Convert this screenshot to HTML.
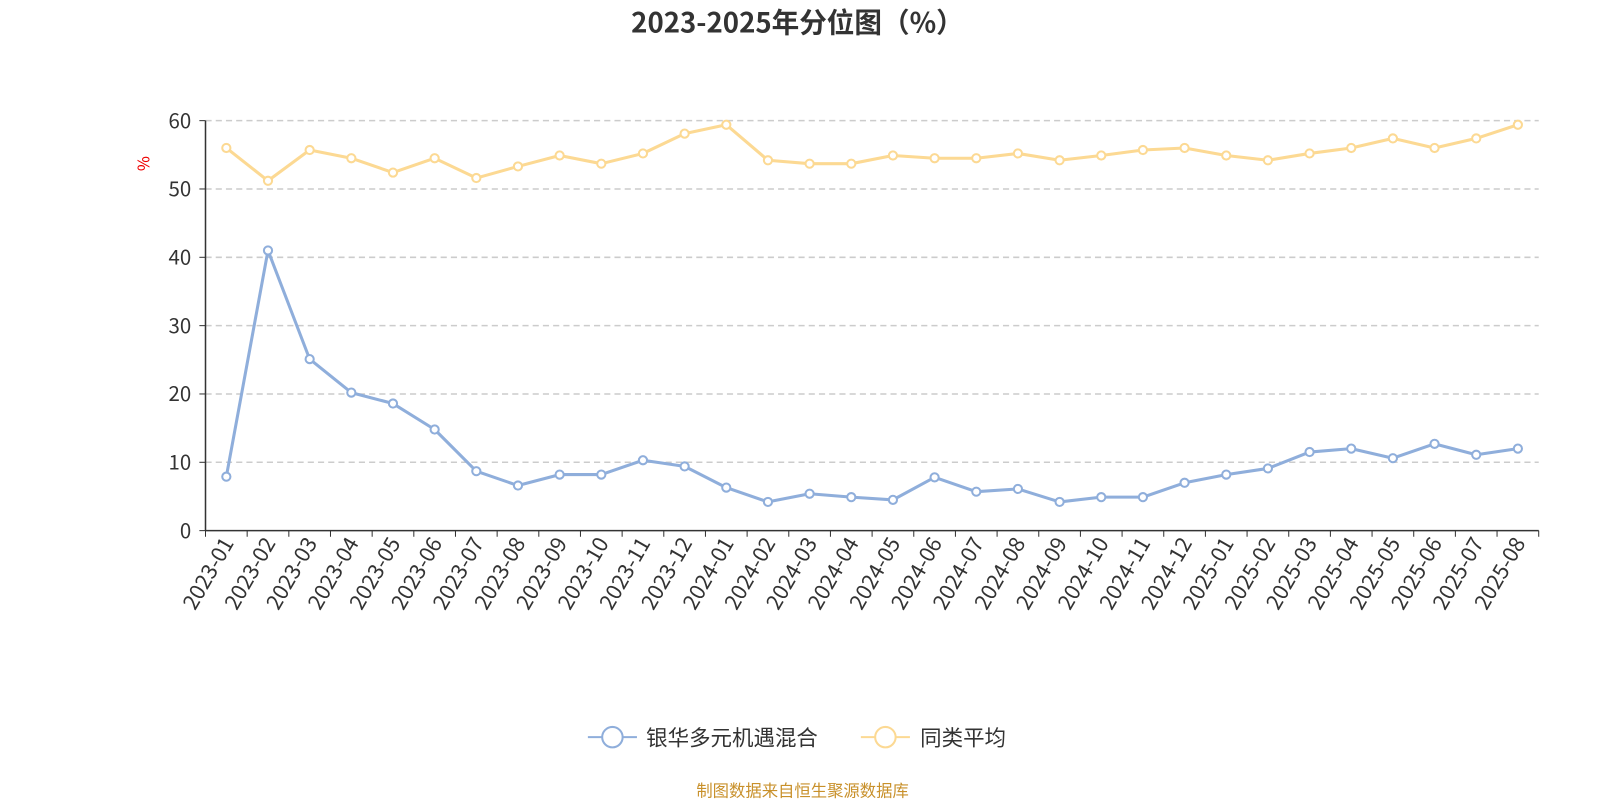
<!DOCTYPE html>
<html><head><meta charset="utf-8"><style>
body{margin:0;background:#fff;}
svg text{font-family:"Noto Sans CJK SC","Liberation Sans",sans-serif;}
</style></head><body>
<svg id="chart" width="1600" height="800" xmlns="http://www.w3.org/2000/svg">
<g transform="scale(1.0224)">
<text x="780" y="32" text-anchor="middle" font-size="27" font-weight="bold" fill="#333">2023-2025年分位图（%）</text>
<text x="146" y="160" font-size="16" fill="#e00" transform="rotate(-90 146 160)" text-anchor="middle">%</text>
<g id="grid"></g><g id="axes"></g><g id="series"></g>
<g>
<g>
<line x1="575" y1="721" x2="623" y2="721" stroke="#8faedb" stroke-width="2"/>
<circle cx="599" cy="721" r="10" fill="#fff" stroke="#8faedb" stroke-width="2"/>
<text x="632" y="729" font-size="21" fill="#333">银华多元机遇混合</text></g>
<g>
<line x1="842" y1="721" x2="890" y2="721" stroke="#fcd993" stroke-width="2"/>
<circle cx="866" cy="721" r="10" fill="#fff" stroke="#fcd993" stroke-width="2"/>
<text x="900" y="729" font-size="21" fill="#333">同类平均</text></g>
</g>
<text x="785" y="779" text-anchor="middle" font-size="16" fill="#c8902a">制图数据来自恒生聚源数据库</text>
</g>
</svg>
<script>
const categories=["2023-01","2023-02","2023-03","2023-04","2023-05","2023-06","2023-07","2023-08","2023-09","2023-10","2023-11","2023-12","2024-01","2024-02","2024-03","2024-04","2024-05","2024-06","2024-07","2024-08","2024-09","2024-10","2024-11","2024-12","2025-01","2025-02","2025-03","2025-04","2025-05","2025-06","2025-07","2025-08"];
const fundValues=[7.9,41,25.1,20.2,18.6,14.8,8.7,6.6,8.2,8.2,10.3,9.4,6.3,4.2,5.4,4.9,4.5,7.8,5.7,6.1,4.2,4.9,4.9,7.0,8.2,9.1,11.5,12.0,10.6,12.7,11.1,12.0];
const avgValues=[56.0,51.2,55.7,54.5,52.4,54.5,51.6,53.3,54.9,53.7,55.2,58.1,59.4,54.2,53.7,53.7,54.9,54.5,54.5,55.2,54.2,54.9,55.7,56.0,54.9,54.2,55.2,56.0,57.4,56.0,57.4,59.4];
const yTicks=[0,10,20,30,40,50,60];
const NS="http://www.w3.org/2000/svg";
const L=201,R=1505,T=118,B=519;
const bw=(R-L)/categories.length;
const x=i=>L+bw*(i+0.5);
const y=v=>B-(v/60)*(B-T);
function mk(tag,attrs,parent){const e=document.createElementNS(NS,tag);for(const k in attrs)e.setAttribute(k,attrs[k]);parent.appendChild(e);return e;}
const grid=document.getElementById('grid'),axes=document.getElementById('axes'),series=document.getElementById('series');
yTicks.forEach(t=>{
  if(t>0){const g=mk('line',{x1:L,x2:R,y1:y(t),y2:y(t),stroke:'#ccc','stroke-dasharray':'6,4','stroke-width':1.5},grid);
  
  }
  mk('line',{x1:L-6,x2:L,y1:y(t),y2:y(t),stroke:'#333'},axes);
  const tx=mk('text',{x:L-14,y:y(t)+7,'text-anchor':'end','font-size':20,fill:'#333'},axes);tx.textContent=t;
  
  
});
mk('line',{x1:L,x2:L,y1:T,y2:B,stroke:'#333','stroke-width':1.5},axes);
mk('line',{x1:L,x2:R,y1:B,y2:B,stroke:'#333','stroke-width':1.5},axes);
for(let i=0;i<=categories.length;i++)mk('line',{x1:L+bw*i,x2:L+bw*i,y1:B,y2:B+6,stroke:'#333'},axes);
categories.forEach((c,i)=>{
  const px=x(i)+8,py=B+12;
  const t=mk('text',{x:px,y:py,'text-anchor':'end','font-size':21,fill:'#333',transform:`rotate(-60 ${px} ${py})`},axes);
  t.textContent=c;
  
  
});
function draw(vals,color,name){
  const g=mk('g',{},series);
  
  
  mk('polyline',{points:vals.map((v,i)=>x(i)+','+y(v)).join(' '),fill:'none',stroke:color,'stroke-width':3,'stroke-linejoin':'round'},g);
  vals.forEach((v,i)=>{const c=mk('circle',{cx:x(i),cy:y(v),r:4,fill:'#fff',stroke:color,'stroke-width':2},g);
  
  });
}
draw(avgValues,'#fcd993','series-average');
draw(fundValues,'#8faedb','series-fund');
</script>
</body></html>
